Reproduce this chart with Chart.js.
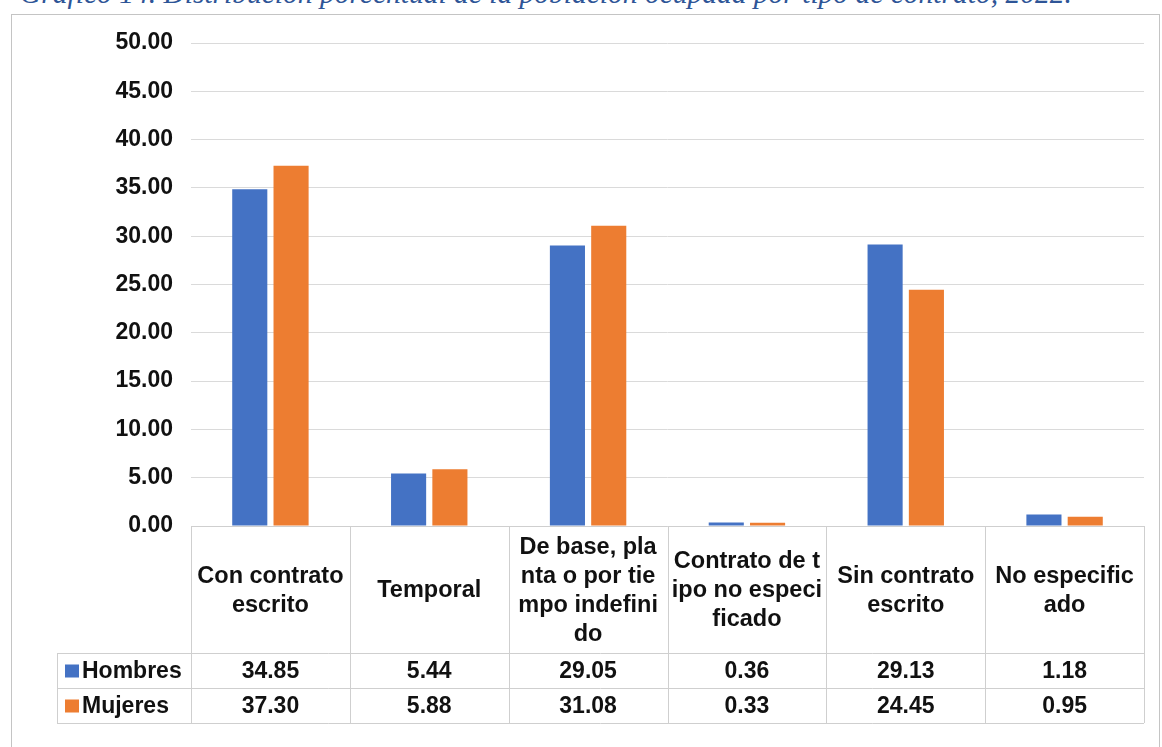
<!DOCTYPE html>
<html>
<head>
<meta charset="utf-8">
<script src="https://cdn.jsdelivr.net/npm/chart.js@4/dist/chart.umd.min.js"></script>
<style>
  body { margin: 0; background: #fff; overflow: hidden; }
  #wrap { position: relative; width: 1162px; height: 747px; }
  #titulo {
    position: absolute; left: 20px; top: -22px; white-space: nowrap;
    font: italic 29.5px/30px "Liberation Serif", serif; color: #2e5597;
  }
  canvas { position: absolute; left: 0; top: 0; }
</style>
</head>
<body>
<div id="wrap">
  <div id="titulo">Gráfico 14. Distribución porcentual de la población ocupada por tipo de contrato, 2022.</div>
  <canvas id="grafico" width="1162" height="747"></canvas>
</div>
<script>
// categorias tal como aparecen cortadas en la tabla
const categorias = [
  ['Con contrato', 'escrito'],
  ['Temporal'],
  ['De base, pla', 'nta o por tie', 'mpo indefini', 'do'],
  ['Contrato de t', 'ipo no especi', 'ficado'],
  ['Sin contrato', 'escrito'],
  ['No especific', 'ado']
];
const hombres = [34.85, 5.44, 29.05, 0.36, 29.13, 1.18];
const mujeres = [37.30, 5.88, 31.08, 0.33, 24.45, 0.95];
const ticksY = [0, 5, 10, 15, 20, 25, 30, 35, 40, 45, 50];

const azul = '#4472c4';
const naranja = '#ed7d31';
const fuente = '"Liberation Sans", Arial, sans-serif';

// marco + tabla de datos debajo del eje
const tablaPlugin = {
  id: 'tabla',
  beforeDraw(chart) {
    const c = chart.ctx;
    c.save();
    c.strokeStyle = '#c4c4c4';
    c.lineWidth = 1;
    c.strokeRect(11.5, 14.5, 1148, 800);
    c.restore();
  },
  afterDraw(chart) {
    const c = chart.ctx;
    const x = chart.scales.x;
    const area = chart.chartArea;
    const paso = x.getPixelForValue(1) - x.getPixelForValue(0);
    const izq = area.left, der = area.right;
    const yTop = area.bottom, yH = 653, yM = 688, yFin = 723;
    const leyIzq = 57;

    c.save();
    c.strokeStyle = '#cfcfcf';
    c.lineWidth = 1;
    c.beginPath();
    c.moveTo(izq, yTop + 0.5); c.lineTo(der, yTop + 0.5);
    [yH, yM, yFin].forEach(y => { c.moveTo(leyIzq, y + 0.5); c.lineTo(der, y + 0.5); });
    c.moveTo(leyIzq + 0.5, yH); c.lineTo(leyIzq + 0.5, yFin);
    for (let i = 0; i <= chart.data.labels.length; i++) {
      const xv = Math.round(x.getPixelForValue(i) - paso / 2) + 0.5;
      c.moveTo(xv, yTop); c.lineTo(xv, yFin);
    }
    c.stroke();

    c.fillStyle = '#111';
    c.font = 'bold 23.5px ' + fuente;
    c.textAlign = 'center';
    c.textBaseline = 'middle';
    const lh = 29;
    chart.data.labels.forEach((lab, i) => {
      const cx = x.getPixelForValue(i);
      const y0 = 591 - (lab.length - 1) * lh / 2;
      lab.forEach((t, k) => c.fillText(t, cx, y0 + k * lh));
    });

    c.font = 'bold 23px ' + fuente;
    chart.data.datasets.forEach((ds, d) => {
      const cy = d === 0 ? (yH + yM) / 2 + 1 : (yM + yFin) / 2 + 1;
      c.textAlign = 'center';
      ds.data.forEach((v, i) => c.fillText(v.toFixed(2), x.getPixelForValue(i), cy));
      c.fillStyle = ds.backgroundColor;
      c.fillRect(65, cy - 7, 14, 13);
      c.fillStyle = '#111';
      c.textAlign = 'left';
      c.fillText(ds.label, 82, cy);
    });
    c.restore();
  }
};

new Chart(document.getElementById('grafico'), {
  type: 'bar',
  data: {
    labels: categorias,
    datasets: [
      { label: 'Hombres', data: hombres, backgroundColor: azul },
      { label: 'Mujeres', data: mujeres, backgroundColor: naranja }
    ]
  },
  options: {
    responsive: false,
    animation: false,
    datasets: { bar: { categoryPercentage: 0.52, barPercentage: 0.85 } },
    layout: { padding: { top: 43, right: 18, bottom: 221, left: 0 } },
    plugins: { legend: { display: false }, tooltip: { enabled: false } },
    scales: {
      x: { display: false },
      y: {
        min: 0,
        max: 50,
        afterFit(s) { s.width = 191; },
        afterBuildTicks(s) { s.ticks = ticksY.map(v => ({ value: v })); },
        ticks: {
          padding: 18,
          color: '#111',
          font: { family: fuente, size: 23, weight: 'bold' },
          callback: v => v.toFixed(2)
        },
        grid: { color: '#dadada', drawTicks: false },
        border: { display: false }
      }
    }
  },
  plugins: [tablaPlugin]
});
</script>
</body>
</html>
